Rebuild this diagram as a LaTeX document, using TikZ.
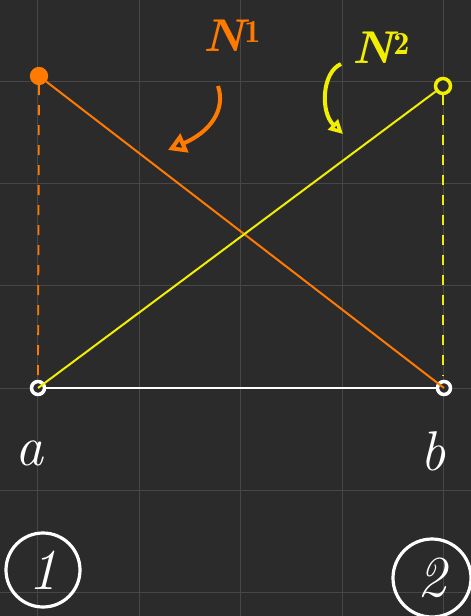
\documentclass[tikz,border=0pt]{standalone}
\usepackage{fontspec}
\usetikzlibrary{arrows.meta}
\definecolor{board}{HTML}{2B2B2B}
\definecolor{gridc}{HTML}{474747}
\definecolor{chalkorange}{HTML}{FF7A00}
\definecolor{chalkyellow}{HTML}{F2EE00}
\begin{document}
\begin{tikzpicture}[x=1pt,y=-1pt,
  dot/.style={circle,draw=#1,fill=#1,line width=1.2pt,minimum size=17pt,inner sep=0pt},
  hollowdot/.style={circle,draw=#1,line width=3.5pt,fill=board,minimum size=13pt,inner sep=0pt},
  chalk/.style={font=\itshape\fontsize{56}{58}\selectfont,text=white},
  circled/.style={circle,draw=white,line width=3.2pt,inner sep=0pt,font=\itshape\fontsize{58}{60}\selectfont,text=white},
  nlabel/.style={font=\bfseries\itshape\fontsize{46}{48}\selectfont,text=#1},
  thinline/.style={line width=2pt},
  dashline/.style={line width=1.8pt,dash pattern=on 10pt off 10pt}]
\fill[board] (0,0) rectangle (471,616);
\useasboundingbox (0,0) rectangle (471,616);
\foreach \x in {37,139,240,342,443} \draw[gridc,line width=0.8pt] (\x,0) -- (\x,616);
\foreach \y in {81,183,285,388,490,592} \draw[gridc,line width=0.8pt] (0,\y) -- (471,\y);
% points
\node[dot=chalkorange] (p1) at (39,76) {};
\node[hollowdot=chalkyellow,minimum size=15pt] (p2) at (443,86) {};
\node[hollowdot=white] (a) at (38,388) {};
\node[hollowdot=white] (b) at (444,388) {};
\coordinate (p1d) at (38,378);
\coordinate (p2d) at (443,376);
% lines
\draw[chalkorange,dashline] (p1) -- (p1d);
\draw[chalkyellow,dashline] (p2) -- (p2d);
\draw[white,line width=2.5pt] (a) -- (b);
\draw[chalkorange,thinline] (p1) -- (b.center);
\draw[chalkyellow,thinline] (a.center) -- (p2);
% labels
\node[chalk] (la) at (30,453) {a};
\node[chalk] (lb) at (433,451) {b};
\node[circled,minimum width=62pt,minimum height=74pt] (c1) at (43,570) {1};
\node[circled,minimum width=68pt,minimum height=78pt] (c2) at (432,578) {2};
\node[nlabel=chalkorange] (n1) at (232,36) {N$^{\mathbf 1}$};
\node[nlabel=chalkyellow] (n2) at (381,48) {N$^{\mathbf 2}$};
% arrows
\coordinate (o1) at (218,86);
\coordinate (o2) at (168,150);
\draw[chalkorange,line width=4pt,-{Triangle[open,length=18pt,width=20pt,line width=4pt]}] (o1) .. controls (226,110) and (210,132) .. (o2);
\coordinate (y1) at (341,64);
\coordinate (y2) at (343,134);
\draw[chalkyellow,line width=4pt,-{Triangle[open,length=14pt,width=14pt,line width=4pt]}] (y1) .. controls (322,72) and (320,112) .. (y2);
\end{tikzpicture}
\end{document}
